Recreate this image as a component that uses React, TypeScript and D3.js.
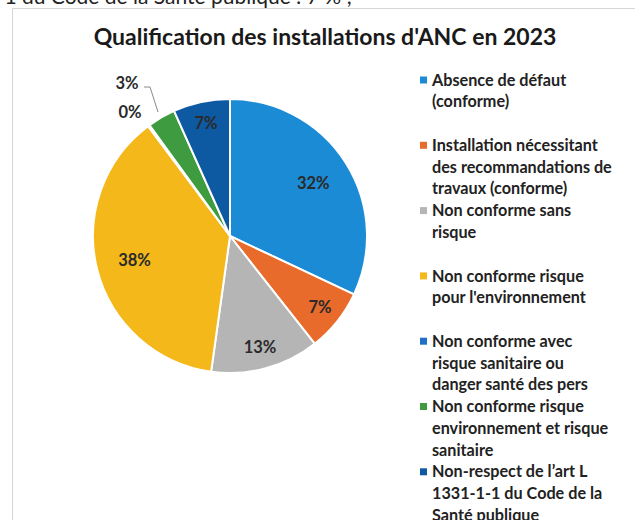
import React from "react";
import * as d3 from "d3";

const categories = [
  ["Absence de défaut", "(conforme)"],
  ["Installation nécessitant", "des recommandations de", "travaux (conforme)"],
  ["Non conforme sans", "risque"],
  ["Non conforme risque", "pour l'environnement"],
  ["Non conforme avec", "risque sanitaire ou", "danger santé des pers"],
  ["Non conforme risque", "environnement et risque", "sanitaire"],
  ["Non-respect de l\u2019art L", "1331-1-1 du Code de la", "Santé publique"],
];
const values = [32.0, 7.4, 12.8, 37.6, 0.2, 3.3, 6.7];
const labels = ["32%", "7%", "13%", "38%", "0%", "3%", "7%"];
const colors = ["#1b8bd5", "#e96b2c", "#b5b5b5", "#f4b81a", "#1f6fc6", "#3e9b3f", "#0d5aa3"];

const FONT = "Lato, 'Open Sans', sans-serif";

export default function App() {
  const cx = 230, cy = 236, r = 137;
  const pie = d3.pie<number>().sort(null).value((d) => d)(values);
  const arc = d3.arc<d3.PieArcDatum<number>>().innerRadius(0).outerRadius(r);
  const labelPos = (d: d3.PieArcDatum<number>) => {
    const frac = (d.endAngle - d.startAngle) / (2 * Math.PI);
    const lr = frac > 0.25 ? r * 0.72 : r * 0.84;
    return d3.arc<d3.PieArcDatum<number>>().innerRadius(lr).outerRadius(lr).centroid(d);
  };
  // outside labels for tiny slices
  const outside: Record<number, [number, number]> = { 4: [-100, -124], 5: [-103, -153] };
  const legendX = 420, legendY0 = 80, legendStep = 65.3, lineH = 21.7;

  return (
    <svg width={635} height={520} style={{ position: "absolute", left: 0, top: 0, background: "#fff" }}>
      <text x={352} y={4} textAnchor="end" fontFamily={FONT} fontSize={21} fill="#222">
        1331-1-1 du Code de la Santé publique : 7 % ;
      </text>
      <path d="M12.5,520 L12.5,8.5 L635,8.5" fill="none" stroke="#d6d6d6" strokeWidth={1} />
      <text x={325} y={45} textAnchor="middle" fontFamily={FONT} fontWeight={700} fontSize={23} fill="#1a1a1a">
        Qualification des installations d'ANC en 2023
      </text>
      <g transform={`translate(${cx},${cy})`}>
        {pie.map((d, i) => (
          <path key={i} d={arc(d) || ""} fill={colors[i]} stroke="#fff" strokeWidth={2} strokeLinejoin="round" />
        ))}
        {pie.map((d, i) => {
          if (outside[i]) return null;
          const [x, y] = labelPos(d);
          return (
            <text key={i} x={x} y={y} dy="0.35em" textAnchor="middle" fontFamily={FONT} fontWeight={700} fontSize={16.5} fill="#2a2a2a">
              {labels[i]}
            </text>
          );
        })}
        {Object.entries(outside).map(([k, [x, y]]) => (
          <text key={k} x={x} y={y} dy="0.35em" textAnchor="middle" fontFamily={FONT} fontWeight={700} fontSize={16.5} fill="#2a2a2a">
            {labels[+k]}
          </text>
        ))}
        <polyline points="-86,-149 -80,-149 -72,-124" fill="none" stroke="#8a8a8a" strokeWidth={1} />
      </g>
      {categories.map((lines, i) => {
        const y0 = legendY0 + i * legendStep;
        return (
          <g key={i}>
            <rect x={legendX} y={y0 - 3.5} width={7} height={7} fill={colors[i]} />
            {lines.map((t, j) => (
              <text key={j} x={legendX + 12} y={y0 + j * lineH} dy="0.35em" fontFamily={FONT} fontWeight={700} fontSize={16.2} fill="#222">
                {t}
              </text>
            ))}
          </g>
        );
      })}
    </svg>
  );
}
